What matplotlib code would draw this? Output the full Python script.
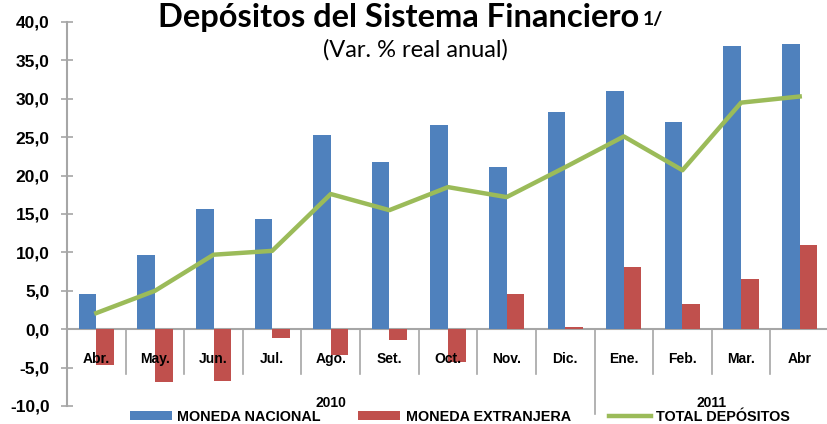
import matplotlib.pyplot as plt
import numpy as np

meses = ["Abr.", "May.", "Jun.", "Jul.", "Ago.", "Set.", "Oct.", "Nov.", "Dic.",
         "Ene.", "Feb.", "Mar.", "Abr"]
moneda_nacional = [4.6, 9.7, 15.6, 14.3, 25.3, 21.8, 26.6, 21.1, 28.3, 31.0, 27.0, 36.9, 37.2]
moneda_extranjera = [-4.7, -6.9, -6.7, -1.2, -3.4, -1.4, -4.3, 4.6, 0.3, 8.1, 3.3, 6.6, 11.0]
total_depositos = [2.1, 5.0, 9.7, 10.2, 17.6, 15.5, 18.5, 17.2, 21.1, 25.1, 20.7, 29.5, 30.3]
anios = ["2010", "2011"]
yticks = [-10, -5, 0, 5, 10, 15, 20, 25, 30, 35, 40]

azul = "#4F81BD"
rojo = "#C0504D"
verde = "#9BBB59"
gris = "#a6a6a6"
fuente = ["Liberation Sans", "DejaVu Sans"]
titulo_f = ["Lato", "DejaVu Sans"]

fig = plt.figure(figsize=(8.27, 4.24), dpi=100)
ax = fig.add_axes([67 / 827, 1 - 406 / 424, 762 / 827, 384 / 424])

x = np.arange(len(meses))
w = 0.3
b1 = ax.bar(x - w / 2, moneda_nacional, w, color=azul, label="MONEDA NACIONAL", zorder=2)
b2 = ax.bar(x + w / 2, moneda_extranjera, w, color=rojo, label="MONEDA EXTRANJERA", zorder=2)
l1, = ax.plot(x, total_depositos, color=verde, lw=3.2, label="TOTAL DEPÓSITOS", zorder=3)

ax.set_xlim(-0.5, len(meses) - 0.5)
ax.set_ylim(-10, 40)
ax.set_yticks(yticks)
ax.set_yticklabels([f"{v:.1f}".replace(".", ",") for v in yticks],
                   fontfamily=fuente, fontweight="bold", fontsize=12.5)
ax.tick_params(axis="y", direction="inout", length=9, width=1.2, color=gris, pad=8)
ax.set_xticks([])
for s in ["top", "right", "bottom"]:
    ax.spines[s].set_visible(False)
ax.spines["left"].set_color(gris)
ax.spines["left"].set_linewidth(1.5)
ax.axhline(0, color=gris, lw=1.5, zorder=1)

# etiquetas de meses y separadores
for i, m in enumerate(meses):
    ax.text(i, -3.9, m, ha="center", va="center", fontfamily=fuente,
            fontweight="bold", fontsize=10, zorder=5)
for i in range(len(meses) - 1):
    if i == 8:
        ax.plot([i + 0.5, i + 0.5], [0, -11.1], color=gris, lw=1.2, clip_on=False)
    else:
        ax.plot([i + 0.5, i + 0.5], [0, -5.8], color=gris, lw=1.2)

ax.text(4.0, -9.6, anios[0], ha="center", va="center", fontfamily=fuente,
        fontweight="bold", fontsize=10)
ax.text(10.5, -9.6, anios[1], ha="center", va="center", fontfamily=fuente,
        fontweight="bold", fontsize=10)

fig.legend(handles=[b1, b2, l1], loc="center", bbox_to_anchor=(460 / 827, 1 - 417 / 424),
           ncol=3, frameon=False, handlelength=2.9, handleheight=0.6, handletextpad=0.4,
           columnspacing=2.6, prop={"family": fuente, "weight": "bold", "size": 10.4})

fig.text(399 / 827, 1 - 17 / 424, "Depósitos del Sistema Financiero", ha="center", va="center",
         fontfamily=titulo_f, fontweight="bold", fontsize=23.5)
fig.text(643 / 827, 1 - 20 / 424, "1/", ha="left", va="center",
         fontfamily=titulo_f, fontweight="bold", fontsize=14)
fig.text(415 / 827, 1 - 50 / 424, "(Var. % real anual)", ha="center", va="center",
         fontfamily=titulo_f, fontsize=17)

fig.savefig("out.png", dpi=100)
